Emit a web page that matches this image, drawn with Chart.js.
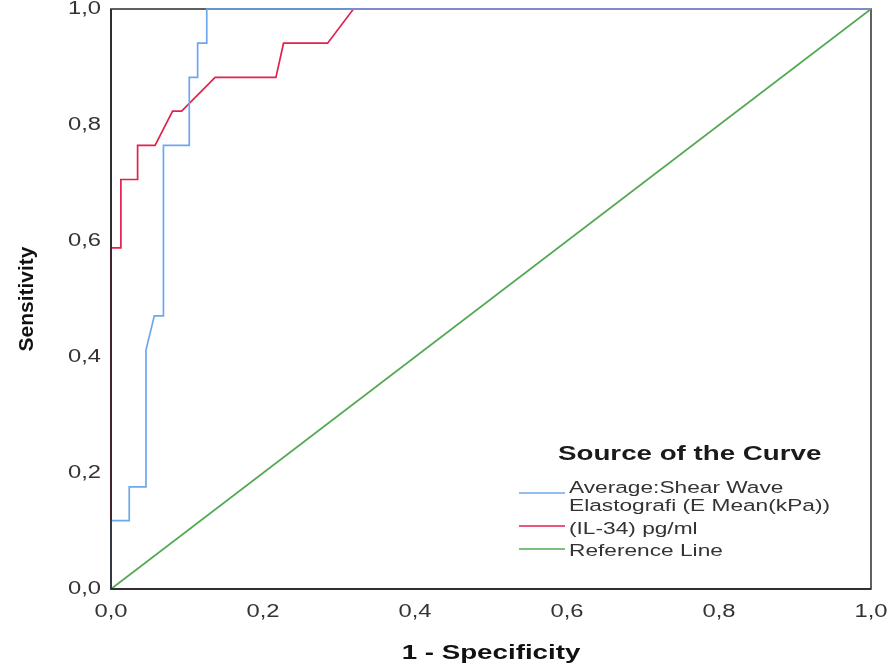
<!DOCTYPE html>
<html>
<head>
<meta charset="utf-8">
<script src="https://cdn.jsdelivr.net/npm/chart.js@4"></script>
<style>
html,body{margin:0;padding:0;background:#fff;}
#wrap{position:relative;width:889px;height:670px;}
</style>
</head>
<body>
<div id="wrap"><canvas id="c" width="889" height="670"></canvas></div>
<script>
// Data (1 - Specificity, Sensitivity)
const seriesNames = ["Average:Shear Wave\nElastografi (E Mean(kPa))", "(IL-34) pg/ml", "Reference Line"];
const sweX = [0, 0, 0.024, 0.024, 0.046, 0.046, 0.057, 0.069, 0.069, 0.103, 0.103, 0.114, 0.114, 0.126, 0.126, 1];
const sweY = [0, 0.118, 0.118, 0.176, 0.176, 0.412, 0.471, 0.471, 0.765, 0.765, 0.882, 0.882, 0.941, 0.941, 1, 1];
const il34X = [0, 0, 0.013, 0.013, 0.035, 0.035, 0.058, 0.081, 0.093, 0.137, 0.217, 0.227, 0.285, 0.319, 1];
const il34Y = [0, 0.588, 0.588, 0.706, 0.706, 0.765, 0.765, 0.824, 0.824, 0.882, 0.882, 0.941, 0.941, 1, 1];
const refX = [0, 1];
const refY = [0, 1];
const tickValues = [0, 0.2, 0.4, 0.6, 0.8, 1.0];
const xTitle = "1 - Specificity";
const yTitle = "Sensitivity";
const legendTitle = "Source of the Curve";

const pts = (xs, ys) => xs.map((x, i) => ({x: x, y: ys[i]}));
const fmt = v => v.toFixed(1).replace('.', ',');
const FONT = '"Liberation Sans", Arial, sans-serif';
const STRETCH = 1.32; // horizontal text is wider in the reference

const textStretch = {
  id: 'textStretch',
  beforeDraw(chart) {
    const ctx = chart.ctx;
    if (ctx._stretched) return;
    ctx._stretched = true;
    const orig = ctx.fillText.bind(ctx);
    ctx.fillText = function (t, x, y, mw) {
      const m = ctx.getTransform();
      if (Math.abs(m.b) > 1e-6) return orig(t, x, y);
      ctx.save();
      ctx.translate(x, y);
      ctx.scale(STRETCH, 1);
      orig(t, 0, 0);
      ctx.restore();
    };
  }
};

const frame = {
  id: 'frame',
  beforeDatasetsDraw(chart) {
    const {ctx, chartArea: a} = chart;
    ctx.save();
    ctx.strokeStyle = '#3a3a3a';
    ctx.lineWidth = 1.6;
    ctx.strokeRect(a.left, a.top, a.right - a.left, a.bottom - a.top);
    ctx.restore();
  },
  afterDatasetsDraw(chart) {
    const {ctx, chartArea: a} = chart;
    ctx.save();
    ctx.strokeStyle = '#222';
    ctx.lineWidth = 1.6;
    ctx.beginPath();
    ctx.moveTo(a.left, a.top);
    ctx.lineTo(a.left, a.bottom);
    ctx.lineTo(a.right, a.bottom);
    ctx.stroke();
    ctx.restore();
  }
};

const legendPlugin = {
  id: 'insideLegend',
  afterDraw(chart) {
    const ctx = chart.ctx;
    ctx.save();
    ctx.fillStyle = '#1a1a1a';
    ctx.font = 'bold 21px ' + FONT;
    ctx.textAlign = 'left';
    ctx.textBaseline = 'middle';
    ctx.fillText(legendTitle, 558, 454);
    ctx.font = '17.2px ' + FONT;
    ctx.fillStyle = '#333';
    const rows = [
      {ds: 0, y: 493, ty: 488},
      {ds: 1, y: 526, ty: 529.5},
      {ds: 2, y: 549, ty: 551}
    ];
    rows.forEach(r => {
      ctx.strokeStyle = chart.data.datasets[r.ds].borderColor;
      ctx.lineWidth = 1.5;
      ctx.beginPath();
      ctx.moveTo(519, r.y);
      ctx.lineTo(565, r.y);
      ctx.stroke();
      seriesNames[r.ds].split('\n').forEach((t, i) => ctx.fillText(t, 569, r.ty + i * 18.5));
    });
    ctx.restore();
  }
};

new Chart(document.getElementById('c'), {
  type: 'line',
  data: {
    datasets: [
      {label: seriesNames[0], data: pts(sweX, sweY), borderColor: '#6ea7ef', borderWidth: 1.7, pointRadius: 0, tension: 0, fill: false, clip: 3},
      {label: seriesNames[1], data: pts(il34X, il34Y), borderColor: '#e2214d', borderWidth: 1.7, pointRadius: 0, tension: 0, fill: false, clip: 3},
      {label: seriesNames[2], data: pts(refX, refY), borderColor: '#52a852', borderWidth: 1.6, pointRadius: 0, tension: 0, fill: false, clip: 3}
    ]
  },
  options: {
    responsive: false,
    animation: false,
    events: [],
    layout: {padding: {top: 9, right: 18, left: 0, bottom: 0}},
    plugins: {legend: {display: false}, tooltip: {enabled: false}},
    scales: {
      x: {
        type: 'linear', min: 0, max: 1,
        afterBuildTicks: s => { s.ticks = tickValues.map(v => ({value: v})); },
        afterFit: s => { s.height = 81; s.paddingLeft = 0; s.paddingRight = 0; },
        grid: {display: false, drawTicks: false},
        border: {display: false},
        ticks: {padding: 12, color: '#333', font: {family: FONT, size: 18}, callback: v => fmt(v), maxRotation: 0},
        title: {display: true, text: xTitle, color: '#111', font: {family: FONT, size: 21, weight: 'bold'}, padding: {top: 10, bottom: 4}}
      },
      y: {
        type: 'linear', min: 0, max: 1,
        afterBuildTicks: s => { s.ticks = tickValues.map(v => ({value: v})); },
        afterFit: s => { s.width = 111; s.paddingTop = 0; s.paddingBottom = 0; },
        grid: {display: false, drawTicks: false},
        border: {display: false},
        ticks: {padding: 10, color: '#333', font: {family: FONT, size: 18}, callback: v => fmt(v)},
        title: {display: true, text: yTitle, color: '#111', font: {family: FONT, size: 21, weight: 'bold'}, padding: {top: 15, bottom: 0}}
      }
    }
  },
  plugins: [textStretch, frame, legendPlugin]
});
</script>
</body>
</html>
